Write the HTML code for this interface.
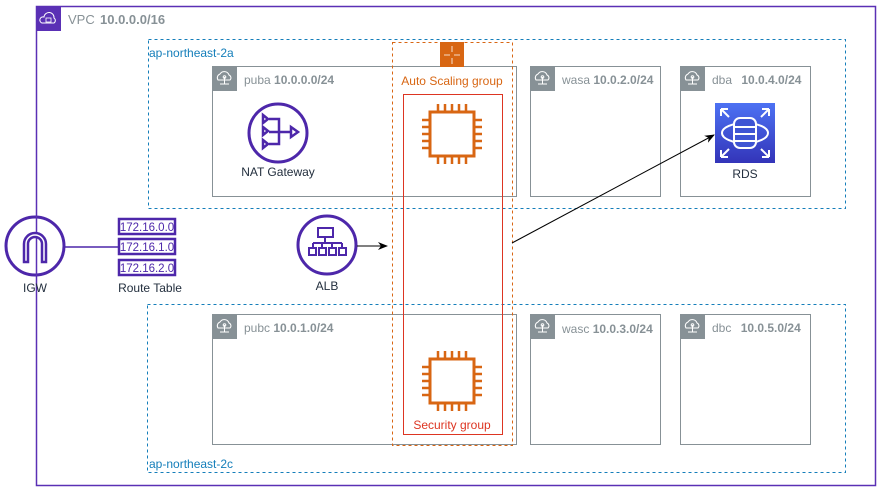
<!DOCTYPE html>
<html><head><meta charset="utf-8"><style>
html,body{margin:0;padding:0;background:#fff;}
svg{display:block;font-family:"Liberation Sans",sans-serif;}
</style></head><body>
<svg width="877" height="488" viewBox="0 0 877 488" xmlns="http://www.w3.org/2000/svg">
<defs>
<marker id="ah" markerWidth="10" markerHeight="8" refX="9" refY="4" orient="auto" markerUnits="userSpaceOnUse"><path d="M0,0 L10,4 L0,8 L3,4 Z" fill="#000"/></marker>
<g id="sub">
 <rect x="0" y="0" width="25" height="25" fill="#879196"/>
 <path d="M6,14 a4,4 0 0 1 2,-6 a5,5 0 0 1 9,1 a3,3 0 0 1 1,5 Z" fill="none" stroke="#fff" stroke-width="1"/>
 <path d="M12.5,11 v7 M8,18 h9" stroke="#fff" stroke-width="1"/>
 <circle cx="12.5" cy="11" r="1.3" fill="none" stroke="#fff"/>
</g>
<g id="ec2">
 <rect x="-22" y="-22" width="44" height="44" fill="none" stroke="#d86613" stroke-width="3"/>
 <g stroke="#d86613" stroke-width="2.5">
  <path d="M-14,-22v-8 M-7,-22v-8 M0,-22v-8 M7,-22v-8 M14,-22v-8"/>
  <path d="M-14,22v8 M-7,22v8 M0,22v8 M7,22v8 M14,22v8"/>
  <path d="M-22,-14h-8 M-22,-7h-8 M-22,0h-8 M-22,7h-8 M-22,14h-8"/>
  <path d="M22,-14h8 M22,-7h8 M22,0h8 M22,7h8 M22,14h8"/>
 </g>
</g>
</defs>
<!-- VPC -->
<rect x="36.5" y="6.5" width="839" height="479" fill="none" stroke="#5a30b5" stroke-width="1.5"/>
<rect x="36" y="6" width="25" height="25" fill="#5a30b5"/>
<path d="M42,23 a3,3 0 0 1 2,-6 a5,5 0 0 1 10,1 a3,3 0 0 1 0,5 Z" fill="none" stroke="#fff"/>
<rect x="46" y="18" width="5" height="4" fill="none" stroke="#fff" stroke-width="0.8"/>
<text x="68" y="24" font-size="13" fill="#879196">VPC</text>
<text x="100" y="24" font-size="13" font-weight="bold" fill="#879196">10.0.0.0/16</text>
<!-- AZs -->
<rect x="148.5" y="39.5" width="697" height="169" fill="none" stroke="#147eba" stroke-dasharray="3,3"/>
<text x="149" y="57" font-size="12" fill="#147eba">ap-northeast-2a</text>
<rect x="147.5" y="304.5" width="698" height="168" fill="none" stroke="#147eba" stroke-dasharray="3,3"/>
<text x="149" y="468" font-size="12" fill="#147eba">ap-northeast-2c</text>
<!-- subnets -->
<g fill="none" stroke="#879196" stroke-width="1">
<rect x="212.5" y="66.5" width="304" height="130"/><rect x="530.5" y="66.5" width="130" height="130"/><rect x="680.5" y="66.5" width="130" height="130"/>
<rect x="212.5" y="314.5" width="304" height="130"/><rect x="530.5" y="314.5" width="130" height="130"/><rect x="680.5" y="314.5" width="130" height="130"/>
</g>
<use href="#sub" x="212" y="66"/><use href="#sub" x="530" y="66"/><use href="#sub" x="680" y="66"/>
<use href="#sub" x="212" y="314"/><use href="#sub" x="530" y="314"/><use href="#sub" x="680" y="314"/>
<g font-size="12" fill="#879196">
<text x="244" y="84">puba <tspan font-weight="bold">10.0.0.0/24</tspan></text>
<text x="562" y="84">wasa <tspan font-weight="bold">10.0.2.0/24</tspan></text>
<text x="712" y="84">dba <tspan font-weight="bold" dx="6">10.0.4.0/24</tspan></text>
<text x="244" y="332">pubc <tspan font-weight="bold">10.0.1.0/24</tspan></text>
<text x="562" y="333">wasc <tspan font-weight="bold">10.0.3.0/24</tspan></text>
<text x="712" y="332">dbc <tspan font-weight="bold" dx="6">10.0.5.0/24</tspan></text>
</g>
<!-- ASG -->
<rect x="392.5" y="42.5" width="120" height="403" fill="none" stroke="#d86613" stroke-dasharray="3,3"/>
<rect x="440" y="42" width="24" height="25" fill="#d86613"/>
<path d="M452,46v6 M452,58v6 M444,55h6 M454,55h6" stroke="#fff" stroke-width="0.8"/>
<text x="452" y="85" font-size="12" fill="#d86613" text-anchor="middle">Auto Scaling group</text>
<rect x="403.5" y="94.5" width="99" height="340" fill="none" stroke="#dd3522"/>
<text x="452" y="429" font-size="12" fill="#dd3522" text-anchor="middle">Security group</text>
<use href="#ec2" x="452" y="134"/><use href="#ec2" x="452" y="381"/>
<!-- NAT -->
<circle cx="278" cy="133" r="29" fill="none" stroke="#4d27aa" stroke-width="3"/>
<g stroke="#4d27aa" stroke-width="2.5" fill="none">
<path d="M263,115 l5,4 l-5,4 Z M263,127 l5,4 l-5,4 Z M263,140 l5,4 l-5,4 Z"/>
<path d="M269,119h10v25h-10 M269,132h21"/>
<path d="M291,127 l7,5 l-7,5 Z"/>
</g>
<text x="278" y="176" font-size="12" fill="#232f3e" text-anchor="middle">NAT Gateway</text>
<!-- RDS -->
<defs><linearGradient id="rg" x1="0" y1="0" x2="0" y2="1"><stop offset="0" stop-color="#4d72f3"/><stop offset="1" stop-color="#3334b9"/></linearGradient></defs>
<rect x="715" y="103" width="60" height="60" fill="url(#rg)"/>
<g stroke="#fff" stroke-width="2" fill="none">
<path d="M721,109l8,8 M721,109v7 M721,109h7 M769,109l-8,8 M769,109v7 M769,109h-7 M721,157l8,-8 M721,157v-7 M721,157h7 M769,157l-8,-8 M769,157v-7 M769,157h-7"/>
<ellipse cx="745" cy="133" rx="23" ry="10"/>
<rect x="734" y="118" width="22" height="30" rx="6" fill="#3f55d4"/>
<path d="M734,127h22 M734,134h22 M734,141h22"/>
</g>
<text x="745" y="178" font-size="12" fill="#232f3e" text-anchor="middle">RDS</text>
<!-- IGW -->
<line x1="65" y1="247" x2="118" y2="247" stroke="#4d27aa" stroke-width="1.5"/>
<circle cx="35" cy="246" r="29" fill="#fff" stroke="#4d27aa" stroke-width="3"/>
<line x1="36.5" y1="216" x2="36.5" y2="276" stroke="#5a30b5" stroke-width="1.5"/>
<path d="M24,262 v-18 a11,11 0 0 1 22,0 v18 h-4 v-18 a7,7 0 0 0 -14,0 v18 Z" fill="#fff" stroke="#4d27aa" stroke-width="2.5"/>
<text x="35" y="292" font-size="12" fill="#232f3e" text-anchor="middle">IGW</text>
<!-- Route table -->
<g fill="none" stroke="#4d27aa" stroke-width="2.5">
<rect x="119" y="219" width="56" height="15"/><rect x="119" y="239" width="56" height="15"/><rect x="119" y="260" width="56" height="15"/>
</g>
<g font-size="11.5" fill="#4d27aa" text-anchor="middle">
<text x="147" y="231">172.16.0.0</text><text x="147" y="251">172.16.1.0</text><text x="147" y="272">172.16.2.0</text>
</g>
<text x="150" y="292" font-size="12" fill="#232f3e" text-anchor="middle">Route Table</text>
<!-- ALB -->
<circle cx="327" cy="245" r="29" fill="none" stroke="#4d27aa" stroke-width="3"/>
<g stroke="#4d27aa" stroke-width="2" fill="none">
<rect x="318" y="228" width="15" height="9"/>
<path d="M325,237v6 M313,243h29 M313,243v5 M322,243v5 M332,243v5 M342,243v5"/>
<rect x="309" y="248" width="7" height="7"/><rect x="319" y="248" width="7" height="7"/><rect x="329" y="248" width="7" height="7"/><rect x="339" y="248" width="7" height="7"/>
</g>
<text x="327" y="290" font-size="12" fill="#232f3e" text-anchor="middle">ALB</text>
<line x1="357" y1="246" x2="387" y2="246" stroke="#000" marker-end="url(#ah)"/>
<line x1="512" y1="243" x2="714" y2="135" stroke="#000" marker-end="url(#ah)"/>
</svg>
</body></html>
